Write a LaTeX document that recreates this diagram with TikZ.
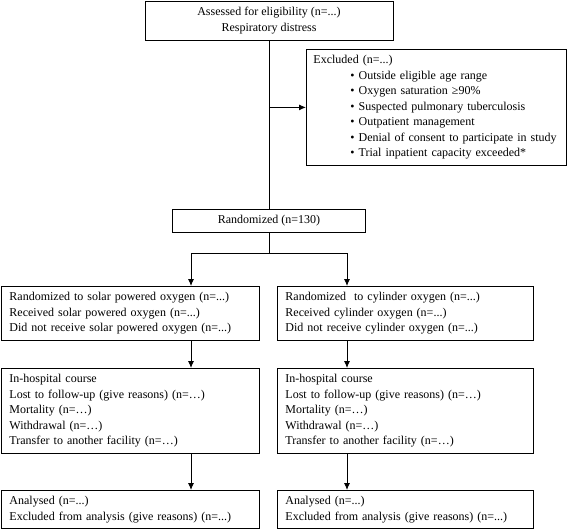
\documentclass[tikz,border=0pt]{standalone}
\usepackage{fontspec}
\setmainfont{Liberation Serif}
\usetikzlibrary{arrows.meta}

\newcommand{\bul}{\hspace*{37pt}\textbullet\ }

\begin{document}
\begin{tikzpicture}[x=1pt,y=-1pt,
    box/.style={draw,line width=0.9pt,inner xsep=8pt,inner ysep=6pt,font=\fontsize{12}{15.5}\selectfont},
    lbox/.style={box,align=left,anchor=north west},
    arr/.style={line width=0.9pt,-{Latex[length=7pt,width=6pt]}}]
    \useasboundingbox (0,0) rectangle (567,530);
    % screening
    \node[box,align=center,minimum width=248pt,anchor=north] (elig) at (269,1) {Assessed for eligibility (n=...)\\Respiratory distress};
    \node[lbox,text width=246pt,inner xsep=7pt] (excl) at (306,49) {Excluded (n=...)\\
        \bul Outside eligible age range\\
        \bul Oxygen saturation ≥90\%\\
        \bul Suspected pulmonary tuberculosis\\
        \bul Outpatient management\\
        \bul Denial of consent to participate in study\\
        \bul Trial inpatient capacity exceeded*};
    \node[box,minimum width=193pt,anchor=north] (rand) at (269,209) {Randomized (n=130)};
    % two arms
    \node[lbox,text width=242pt] (solar) at (1,286) {Randomized to solar powered oxygen (n=...)\\Received solar powered oxygen (n=...)\\Did not receive solar powered oxygen (n=...)};
    \node[lbox,text width=240pt] (cyl) at (277,286) {Randomized\ \ to cylinder oxygen (n=...)\\Received cylinder oxygen (n=...)\\Did not receive cylinder oxygen (n=...)};
    \node[lbox,text width=242pt] (hospL) at (1,368) {In-hospital course\\Lost to follow-up (give reasons) (n=…)\\Mortality (n=…)\\Withdrawal (n=…)\\Transfer to another facility (n=…)};
    \node[lbox,text width=240pt] (hospR) at (277,368) {In-hospital course\\Lost to follow-up (give reasons) (n=…)\\Mortality (n=…)\\Withdrawal (n=…)\\Transfer to another facility (n=…)};
    \node[lbox,text width=242pt] (anaL) at (1,490) {Analysed (n=...)\\Excluded from analysis (give reasons) (n=...)};
    \node[lbox,text width=240pt] (anaR) at (277,490) {Analysed (n=...)\\Excluded from analysis (give reasons) (n=...)};
    % connectors
    \coordinate (lx) at (191,0);
    \coordinate (rx) at (347,0);
    \coordinate (fork) at (269,253);
    \draw[line width=0.9pt] (elig) -- (rand);
    \draw[arr] (elig.south |- excl.west) -- (excl.west);
    \draw[line width=0.9pt] (rand) -- (fork);
    \draw[arr] (fork) -| (lx |- solar.north);
    \draw[arr] (fork) -| (rx |- cyl.north);
    \draw[arr] (lx |- solar.south) -- (lx |- hospL.north);
    \draw[arr] (rx |- cyl.south) -- (rx |- hospR.north);
    \draw[arr] (lx |- hospL.south) -- (lx |- anaL.north);
    \draw[arr] (rx |- hospR.south) -- (rx |- anaR.north);
\end{tikzpicture}
\end{document}
